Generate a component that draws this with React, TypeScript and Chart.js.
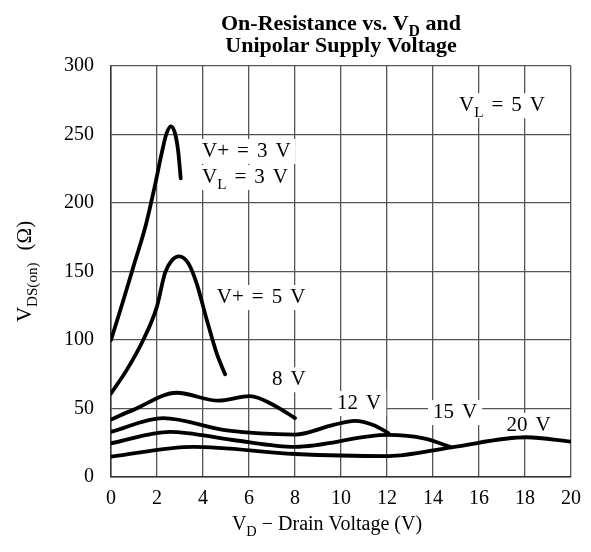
import React, { useEffect, useRef } from "react";
import { Chart, registerables } from "chart.js";

Chart.register(...registerables);

// ---- Data ----
const X_TICKS = [0, 2, 4, 6, 8, 10, 12, 14, 16, 18, 20];
const Y_TICKS = [0, 50, 100, 150, 200, 250, 300];

const V3_X = [0, 0.5, 1.0, 1.5, 1.9, 2.2, 2.4, 2.6, 2.78, 2.92, 3.03];
const V3_Y = [100, 127, 155, 183, 212, 236, 250, 256, 251, 238, 218];

const V5_X = [0, 0.68, 1.4, 1.99, 2.35, 2.64, 2.96, 3.36, 3.73, 4.16, 4.6, 4.96];
const V5_Y = [61, 78, 100, 124, 149, 158, 161, 156, 141, 115, 90, 75];

const V8_X = [0, 0.97, 2.86, 4.67, 6.04, 7.06, 8];
const V8_Y = [42, 49, 61.5, 55.7, 59, 52.6, 43];

const V12_X = [0, 2.27, 5.03, 8, 9.67, 10.6, 11.4, 12.06];
const V12_Y = [33, 43, 34, 31, 38, 41, 38, 32];

const V15_X = [0, 2.56, 5.3, 8, 12.06, 13.65, 14.8];
const V15_Y = [24.6, 33, 27, 22, 30.7, 28, 21.7];

const V20_X = [0, 3.58, 8, 12.06, 14.8, 18.07, 20];
const V20_Y = [14.8, 22, 16.8, 15.3, 21.7, 29, 25.8];

const SERIES_X = [V3_X, V5_X, V8_X, V12_X, V15_X, V20_X];
const SERIES_Y = [V3_Y, V5_Y, V8_Y, V12_Y, V15_Y, V20_Y];
const SERIES_NAMES = ["V+ = 3 V", "V+ = 5 V", "8 V", "12 V", "15 V", "20 V"];

// Curve annotations (anchor: left edge x, baseline y, in data units)
const LABEL_TEXTS = ["V_{L} = 5 V", "V+ = 3 V", "V_{L} = 3 V", "V+ = 5 V", "8 V", "12 V", "15 V", "20 V"];
const LABEL_X = [15.13, 3.96, 3.96, 4.6, 7.0, 9.83, 14.0, 17.2];
const LABEL_Y = [267, 233.6, 214.6, 127, 67, 49.6, 43, 33.6];

const TITLE_LINES = ["On-Resistance vs. V_{D} and", "Unipolar Supply Voltage"];
const X_TITLE = "V_{D} \u2212 Drain Voltage (V)";
const Y_TITLE = "V_{DS(on)} (\u03A9)";

const FAMILY = '"Liberation Serif", "Times New Roman", serif';

type Piece = { t: string; sub: boolean; w: number; fs: number };

function layoutRich(ctx: CanvasRenderingContext2D, str: string, size: number, bold: boolean, gap: number | null): Piece[] {
  const pieces: Piece[] = [];
  const push = (t: string, sub: boolean) => {
    const fs = sub ? size * 0.72 : size;
    ctx.font = `${bold ? "bold " : ""}${fs}px ${FAMILY}`;
    if (gap != null && !sub) {
      const words = t.split(" ");
      words.forEach((w, i) => {
        if (i > 0) pieces.push({ t: "", sub, w: gap, fs });
        if (w) pieces.push({ t: w, sub, w: ctx.measureText(w).width, fs });
      });
    } else {
      pieces.push({ t, sub, w: ctx.measureText(t).width, fs });
    }
  };
  const re = /_\{([^}]*)\}/g;
  let last = 0;
  let m: RegExpExecArray | null;
  while ((m = re.exec(str))) {
    if (m.index > last) push(str.slice(last, m.index), false);
    push(m[1], true);
    last = re.lastIndex;
  }
  if (last < str.length) push(str.slice(last), false);
  return pieces;
}

function drawRich(
  ctx: CanvasRenderingContext2D,
  str: string,
  x: number,
  y: number,
  size: number,
  opts: { bold?: boolean; gap?: number | null; align?: "left" | "center" } = {}
) {
  const bold = !!opts.bold;
  const pieces = layoutRich(ctx, str, size, bold, opts.gap ?? null);
  const total = pieces.reduce((s, p) => s + p.w, 0);
  let cx = opts.align === "center" ? x - total / 2 : x;
  ctx.textAlign = "left";
  ctx.textBaseline = "alphabetic";
  ctx.fillStyle = "#000";
  for (const p of pieces) {
    if (p.t) {
      ctx.font = `${bold ? "bold " : ""}${p.fs}px ${FAMILY}`;
      ctx.fillText(p.t, cx, y + (p.sub ? size * 0.28 : 0));
    }
    cx += p.w;
  }
  return total;
}

const LABEL_SIZE = 21;
const LABEL_GAP = 8;

const annotPlugin = {
  id: "annot",
  beforeDatasetsDraw(chart: any) {
    const ctx: CanvasRenderingContext2D = chart.ctx;
    const xs = chart.scales.x;
    const ys = chart.scales.y;
    ctx.save();
    LABEL_TEXTS.forEach((txt, i) => {
      const px = xs.getPixelForValue(LABEL_X[i]);
      const py = ys.getPixelForValue(LABEL_Y[i]);
      const pieces = layoutRich(ctx, txt, LABEL_SIZE, false, LABEL_GAP);
      const w = pieces.reduce((s, p) => s + p.w, 0);
      ctx.fillStyle = "#fff";
      ctx.fillRect(px - 5, py - 18, w + 10, 25);
    });
    ctx.restore();
  },
  afterDatasetsDraw(chart: any) {
    const ctx: CanvasRenderingContext2D = chart.ctx;
    const xs = chart.scales.x;
    const ys = chart.scales.y;
    const area = chart.chartArea;
    ctx.save();
    LABEL_TEXTS.forEach((txt, i) => {
      const px = xs.getPixelForValue(LABEL_X[i]);
      const py = ys.getPixelForValue(LABEL_Y[i]);
      drawRich(ctx, txt, px, py, LABEL_SIZE, { gap: LABEL_GAP });
    });
    // chart title
    const cxMid = (area.left + area.right) / 2;
    drawRich(ctx, TITLE_LINES[0], cxMid, 30, 22, { bold: true, align: "center" });
    drawRich(ctx, TITLE_LINES[1], cxMid, 52, 22, { bold: true, align: "center" });
    // x axis title
    drawRich(ctx, X_TITLE, cxMid - 14, 530, 20, { align: "center" });
    // y axis title
    ctx.translate(31, (area.top + area.bottom) / 2);
    ctx.rotate(-Math.PI / 2);
    drawRich(ctx, Y_TITLE, 0, 0, 21, { align: "center", gap: 12 });
    ctx.restore();
  },
};

export default function App() {
  const ref = useRef<HTMLCanvasElement | null>(null);
  useEffect(() => {
    document.body.style.margin = "0";
    const canvas = ref.current;
    if (!canvas) return;
    const datasets = SERIES_X.map((xs, k) => ({
      label: SERIES_NAMES[k],
      data: xs.map((x, i) => ({ x, y: SERIES_Y[k][i] })),
      borderColor: "#000",
      backgroundColor: "#000",
      borderWidth: 3.8,
      pointRadius: 0,
      fill: false,
      cubicInterpolationMode: "monotone" as const,
      borderCapStyle: "round" as const,
      borderJoinStyle: "round" as const,
    }));
    const tickFont = { family: FAMILY, size: 20 };
    const chart = new Chart(canvas, {
      type: "line",
      data: { datasets },
      plugins: [annotPlugin],
      options: {
        animation: false,
        responsive: false,
        maintainAspectRatio: false,
        layout: { padding: { top: 66, right: 20, left: 0, bottom: 0 } },
        plugins: {
          legend: { display: false },
          tooltip: { enabled: false },
          title: { display: false },
        },
        scales: {
          x: {
            type: "linear",
            min: 0,
            max: 20,
            afterBuildTicks: (s: any) => {
              s.ticks = X_TICKS.map((v) => ({ value: v }));
            },
            afterFit: (s: any) => {
              s.height = 75;
            },
            grid: { color: "#555", lineWidth: 1.3, drawTicks: false },
            border: { display: true, color: "#333", width: 1.5 },
            ticks: { font: tickFont, color: "#000", padding: 10, maxRotation: 0, autoSkip: false },
          },
          y: {
            type: "linear",
            min: 0,
            max: 300,
            afterBuildTicks: (s: any) => {
              s.ticks = Y_TICKS.map((v) => ({ value: v }));
            },
            afterFit: (s: any) => {
              s.width = 111;
            },
            grid: { color: "#555", lineWidth: 1.3, drawTicks: false },
            border: { display: true, color: "#333", width: 1.5 },
            ticks: { font: tickFont, color: "#000", padding: 17, autoSkip: false },
          },
        },
      },
    });
    return () => chart.destroy();
  }, []);
  return (
    <div style={{ position: "absolute", left: 0, top: 0, width: 591, height: 552, background: "#fff" }}>
      <canvas ref={ref} width={591} height={552} style={{ display: "block" }} />
    </div>
  );
}
